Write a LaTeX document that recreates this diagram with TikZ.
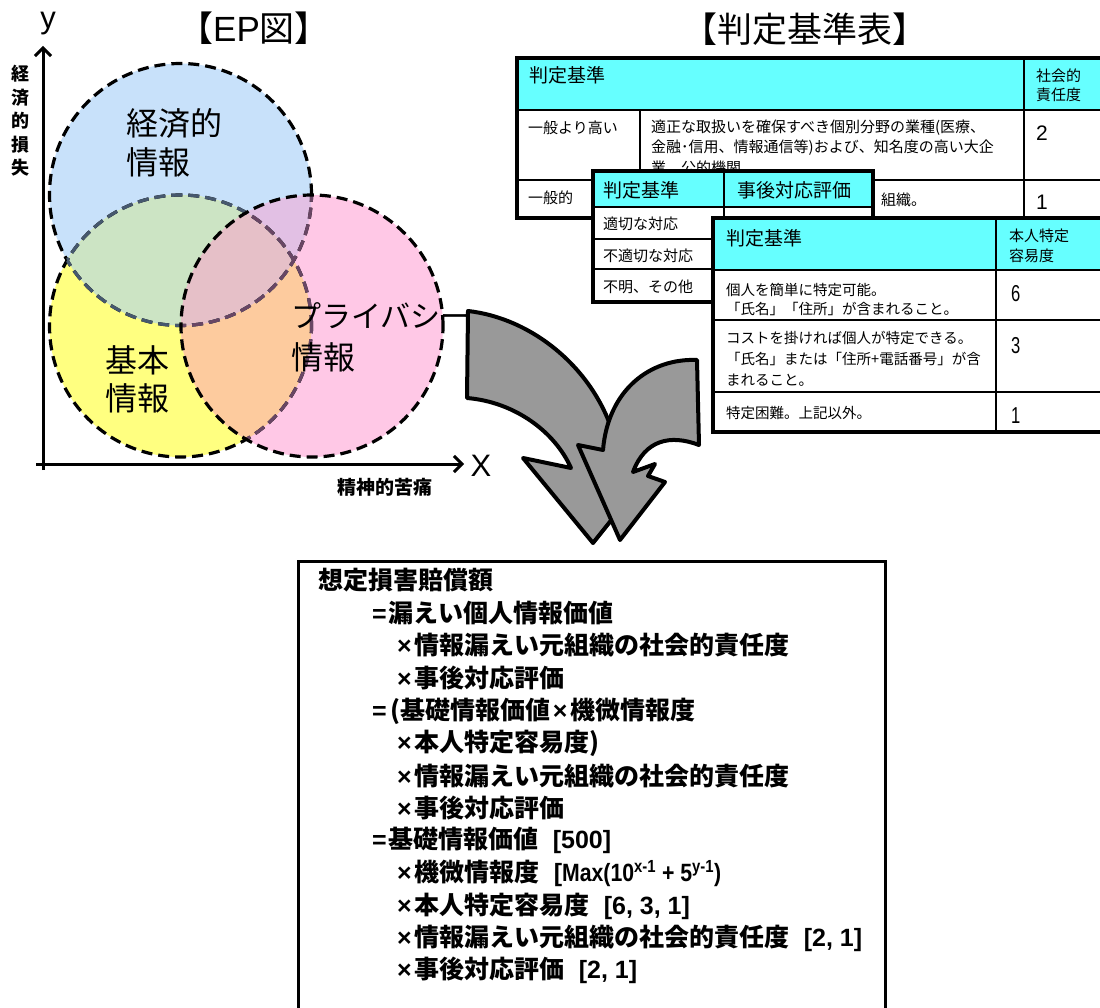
\documentclass[tikz,border=0pt]{standalone}
\usepackage{fontspec}
\setmainfont{Noto Sans CJK JP}
\newfontfamily\lat{Liberation Sans}
\newfontfamily\narrowdig{Liberation Sans}[FakeStretch=0.72]
\newfontfamily\narrowlat{Liberation Sans}[FakeStretch=0.85]
\usetikzlibrary{arrows.meta}
\newcommand\fsz[1]{\fontsize{#1}{#1}\selectfont}
\newcommand\tmul{{\lat\bfseries ×\hspace{3pt}}}
\newcommand\tgap{\hspace{14pt}}
\definecolor{cblue}{RGB}{200,225,250}
\definecolor{cyel}{RGB}{255,255,128}
\definecolor{cpink}{RGB}{255,200,230}
\definecolor{cgreen}{RGB}{204,228,196}
\definecolor{corange}{RGB}{253,203,158}
\definecolor{clav}{RGB}{226,192,228}
\definecolor{cmauve}{RGB}{230,192,200}
\definecolor{bluegray}{RGB}{70,88,110}
\definecolor{purplegray}{RGB}{105,70,100}
\definecolor{hcyan}{RGB}{102,255,255}
\definecolor{agray}{RGB}{153,153,153}
\begin{document}
\begin{tikzpicture}[x=1pt,y=-1pt,
  circ/.style={line width=3.2pt, dash pattern=on 11pt off 6pt},
  txt/.style={inner sep=0pt, anchor=west},
  ctxt/.style={inner sep=0pt},
  tblout/.style={line width=3.5pt},
  tblin/.style={line width=1.5pt},
  axis/.style={line width=3pt},
  bigarrow/.style={fill=agray, draw=black, line width=4pt, line join=round},
  formula/.style={inner sep=0pt, anchor=west, font=\bfseries\fsz{25}}]
\clip (0,0) rectangle (1100,1008);
\fill[white] (0,0) rectangle (1100,1008);

% ---------- EP diagram ----------
\coordinate (cB) at (180.5,194.5);
\coordinate (cY) at (180.5,326);
\coordinate (cP) at (312,326);
\fill[cblue] (cB) circle[radius=131pt];
\fill[cyel] (cY) circle[radius=131pt];
\fill[cpink] (cP) circle[radius=131pt];
\begin{scope}\clip (cB) circle[radius=131pt]; \fill[cgreen] (cY) circle[radius=131pt];\end{scope}
\begin{scope}\clip (cY) circle[radius=131pt]; \fill[corange] (cP) circle[radius=131pt];\end{scope}
\begin{scope}\clip (cB) circle[radius=131pt]; \fill[clav] (cP) circle[radius=131pt];\end{scope}
\begin{scope}\clip (cB) circle[radius=131pt]; \clip (cY) circle[radius=131pt]; \fill[cmauve] (cP) circle[radius=131pt];\end{scope}
% borders
\draw[circ] (cB) circle[radius=131pt];
\draw[circ] (cY) circle[radius=131pt];
\begin{scope}\clip (cY) circle[radius=131pt]; \draw[circ, bluegray] (cB) circle[radius=131pt];\end{scope}
\begin{scope}\clip (cB) circle[radius=131pt]; \draw[circ, bluegray] (cY) circle[radius=131pt];\end{scope}
\begin{scope}\clip (cP) circle[radius=131pt]; \draw[circ, purplegray] (cB) circle[radius=131pt]; \draw[circ, purplegray] (cY) circle[radius=131pt];\end{scope}
\draw[circ] (cP) circle[radius=131pt];

% axes
\coordinate (o1) at (43,470);
\coordinate (ytop) at (43,46);
\coordinate (o2) at (36,464);
\coordinate (xend) at (464,464);
\draw[axis, -{Straight Barb[length=8pt,width=16pt]}] (o1) -- (ytop);
\draw[axis, -{Straight Barb[length=8pt,width=16pt]}] (o2) -- (xend);
\node[ctxt, font=\lat\fsz{31}] (ylab) at (48,24) {y};
\node[ctxt, font=\lat\fsz{31}] (xlab) at (481,466) {X};
\node[ctxt, font=\bfseries\fontsize{18}{23.5}\selectfont, align=center] (ylabel) at (21,121) {経\\済\\的\\損\\失};
\node[ctxt, font=\bfseries\fsz{19}] (xlabel) at (385,487) {精神的苦痛};

% circle labels
\node[txt, font=\fsz{32}] (e1) at (126,123) {経済的};
\node[txt, font=\fsz{32}] (e2) at (126,162) {情報};
\node[txt, font=\fsz{32}] (b1) at (105,360) {基本};
\node[txt, font=\fsz{32}] (b2) at (105,398) {情報};
\node[txt, font=\fsz{30}] (p1) at (291,316) {プライバシー};
\node[txt, font=\fsz{32}] (p2) at (291,357) {情報};

% titles
\node[ctxt, font=\fsz{35}] (t1) at (254,28) {【{\lat EP}図】};
\node[ctxt, font=\fsz{35}] (t2) at (805,29) {【判定基準表】};

% ---------- Table 1 ----------
\fill[white] (517,58) rectangle (1110,218);
\fill[hcyan] (517,58) rectangle (1110,110);
\draw[tblin] (517,110) -- (1110,110);
\draw[tblin] (517,180) -- (1110,180);
\draw[tblin] (640,110) -- (640,218);
\draw[tblin] (1024,58) -- (1024,218);
\draw[tblout] (1110,58) -- (517,58) -- (517,218) -- (1110,218);
\node[txt, font=\fsz{19}] (h1) at (529,75) {判定基準};
\node[txt, font=\fsz{15}] (h1b) at (1036,76) {社会的};
\node[txt, font=\fsz{15}] (h1c) at (1036,95) {責任度};
\node[txt, font=\fsz{15}] (r11) at (528,128) {一般より高い};
\node[txt, font=\fsz{15}] (r12) at (651,128) {適正な取扱いを確保すべき個別分野の業種(医療、};
\node[txt, font=\fsz{15}] (r13) at (651,148) {金融･信用、情報通信等)および、知名度の高い大企};
\node[txt, font=\fsz{15}] (r14) at (651,168) {業、公的機関};
\node[txt, font=\lat\fsz{21}] (v11) at (1036,133) {2};
\node[txt, font=\fsz{15}] (r21) at (528,198) {一般的};
\node[txt, font=\fsz{15}] (r22) at (881,200) {組織。};
\node[txt, font=\lat\fsz{21}] (v12) at (1036,202) {1};

% ---------- Table 2 ----------
\fill[white] (593,171) rectangle (873,302);
\fill[hcyan] (593,171) rectangle (873,207);
\draw[tblin] (593,207) -- (873,207);
\draw[tblin] (593,239) -- (873,239);
\draw[tblin] (593,269) -- (873,269);
\draw[tblin] (724,171) -- (724,302);
\draw[tblout] (593,171) rectangle (873,302);
\node[txt, font=\fsz{19}] (h2) at (603,190) {判定基準};
\node[txt, font=\fsz{19}] (h2b) at (737,190) {事後対応評価};
\node[txt, font=\fsz{15}] (s1) at (603,224) {適切な対応};
\node[txt, font=\fsz{15}] (s2) at (603,256) {不適切な対応};
\node[txt, font=\fsz{15}] (s3) at (603,287) {不明、その他};

% ---------- Table 3 ----------
\fill[white] (713,218) rectangle (1110,432);
\fill[hcyan] (713,218) rectangle (1110,270);
\draw[tblin] (713,270) -- (1110,270);
\draw[tblin] (713,320) -- (1110,320);
\draw[tblin] (713,392) -- (1110,392);
\draw[tblin] (996,218) -- (996,432);
\draw[tblout] (1110,218) -- (713,218) -- (713,432) -- (1110,432);
\node[txt, font=\fsz{19}] (h3) at (726,238) {判定基準};
\node[txt, font=\fsz{15}] (h3b) at (1009,236) {本人特定};
\node[txt, font=\fsz{15}] (h3c) at (1009,256) {容易度};
\node[txt, font=\fsz{14.5}] (q1) at (726,290) {個人を簡単に特定可能。};
\node[txt, font=\fsz{14.5}] (q2) at (726,309) {「氏名」「住所」が含まれること。};
\node[txt, font=\fsz{14.5}] (q3) at (726,338) {コストを掛ければ個人が特定できる。};
\node[txt, font=\fsz{14.5}] (q4) at (726,359) {「氏名」または「住所+電話番号」が含};
\node[txt, font=\fsz{14.5}] (q5) at (726,380) {まれること。};
\node[txt, font=\fsz{14.5}] (q6) at (726,413) {特定困難。上記以外。};
\node[txt, font=\narrowdig\fsz{23}] (w1) at (1011,294) {6};
\node[txt, font=\narrowdig\fsz{23}] (w2) at (1011,346) {3};
\node[txt, font=\narrowdig\fsz{23}] (w3) at (1011,416) {1};

% ---------- Arrows ----------
\draw[bigarrow] (468,311) .. controls (530,318) and (590,365) .. (612,430)
  -- (618,455) -- (645,478) -- (593,543) -- (523,458) -- (571,468)
  .. controls (555,432) and (515,402) .. (467,398) -- cycle;
\draw[bigarrow] (697,360) .. controls (650,358) and (608,390) .. (603,450)
  -- (578,445) -- (620,540) -- (665,482) -- (648,476) -- (655,464) -- (633,472)
  .. controls (645,440) and (670,434) .. (699,445) -- cycle;

% ---------- Formula box ----------
\draw[line width=3pt, fill=white] (298,561) rectangle (885,1040);
\node[formula] (f1) at (318,580) {想定損害賠償額};
\node[formula] (f2) at (372,613) {{\lat =}\hspace{2pt}漏えい個人情報価値};
\node[formula] (f3) at (397,645) {\tmul 情報漏えい元組織の社会的責任度};
\node[formula] (f4) at (397,678) {\tmul 事後対応評価};
\node[formula] (f5) at (372,711) {{\lat =}\hspace{4pt}(基礎情報価値\hspace{2pt}\tmul 機微情報度};
\node[formula] (f6) at (397,743) {\tmul 本人特定容易度)};
\node[formula] (f7) at (397,776) {\tmul 情報漏えい元組織の社会的責任度};
\node[formula] (f8) at (397,808) {\tmul 事後対応評価};
\node[formula] (f9) at (372,840) {{\lat =}\hspace{2pt}基礎情報価値\tgap{\lat [500]}};
\node[formula] (f10) at (397,873) {\tmul 機微情報度\tgap{\lat [}{\narrowlat Max(10\textsuperscript{x-1} + 5\textsuperscript{y-1})}};
\node[formula] (f11) at (397,906) {\tmul 本人特定容易度\tgap{\lat [6, 3, 1]}};
\node[formula] (f12) at (397,938) {\tmul 情報漏えい元組織の社会的責任度\tgap{\lat [2, 1]}};
\node[formula] (f13) at (397,970) {\tmul 事後対応評価\tgap{\lat [2, 1]}};
\end{tikzpicture}
\end{document}
